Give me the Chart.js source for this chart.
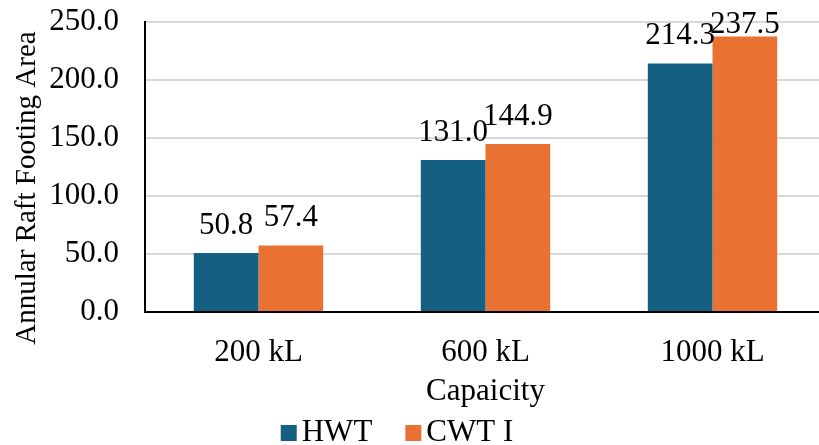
<!DOCTYPE html>
<html>
<head>
<meta charset="utf-8">
<script src="https://cdn.jsdelivr.net/npm/chart.js@4.4.1/dist/chart.umd.min.js"></script>
<style>
    html, body { margin: 0; padding: 0; background: #fff; overflow: hidden; }
    #wrap { width: 826px; height: 445px; }
</style>
</head>
<body>
<div id="wrap"><canvas id="areaChart"></canvas></div>
<script>
// Raft footing area by tank capacity
const capacities = ['200 kL', '600 kL', '1000 kL'];
const hwtArea = [50.8, 131.0, 214.3];
const cwtArea = [57.4, 144.9, 237.5];
const yTicks = [0, 50, 100, 150, 200, 250];

const FONT = 'Liberation Serif';
const SIZE = 31;

// value labels above each bar, kept inside the canvas near the top
const barLabels = {
    id: 'barLabels',
    afterDatasetsDraw(chart) {
        const ctx = chart.ctx;
        ctx.save();
        ctx.font = SIZE + 'px "' + FONT + '"';
        ctx.fillStyle = '#000';
        ctx.textAlign = 'center';
        ctx.textBaseline = 'alphabetic';
        chart.data.datasets.forEach((ds, i) => {
            chart.getDatasetMeta(i).data.forEach((bar, j) => {
                const y = Math.max(bar.y - 19, 33);
                ctx.fillText(ds.data[j].toFixed(1), bar.x, y);
            });
        });
        ctx.restore();
    }
};

// rotated y-axis title
const yTitle = {
    id: 'yTitle',
    afterDraw(chart) {
        const ctx = chart.ctx;
        ctx.save();
        ctx.font = '29px "' + FONT + '"';
        ctx.fillStyle = '#000';
        ctx.textAlign = 'center';
        ctx.textBaseline = 'middle';
        ctx.translate(27, 188);
        ctx.rotate(-Math.PI / 2);
        ctx.fillText('Annular Raft Footing Area', 0, 0);
        ctx.restore();
    }
};

// legend row under the axis title (square swatch + name)
const bottomLegend = {
    id: 'bottomLegend',
    afterDraw(chart) {
        const ctx = chart.ctx;
        const box = 16, gap = 5, spacing = 33;
        ctx.save();
        ctx.font = SIZE + 'px "' + FONT + '"';
        ctx.textBaseline = 'middle';
        const items = chart.data.datasets.map(ds => ({
            text: ds.label,
            color: ds.backgroundColor,
            w: box + gap + ctx.measureText(ds.label).width
        }));
        const total = items.reduce((s, it) => s + it.w, 0) + spacing * (items.length - 1);
        let x = 397 - total / 2;
        const y = 433;
        items.forEach(it => {
            ctx.fillStyle = it.color;
            ctx.fillRect(x, y - box / 2, box, box);
            ctx.fillStyle = '#000';
            ctx.fillText(it.text, x + box + gap, y);
            x += it.w + spacing;
        });
        ctx.restore();
    }
};

new Chart(document.getElementById('areaChart').getContext('2d'), {
    type: 'bar',
    data: {
        labels: capacities,
        datasets: [
            {
                label: 'HWT',
                data: hwtArea,
                backgroundColor: '#156082',
                categoryPercentage: 0.57,
                barPercentage: 1.0
            },
            {
                label: 'CWT I',
                data: cwtArea,
                backgroundColor: '#E97132',
                categoryPercentage: 0.57,
                barPercentage: 1.0
            }
        ]
    },
    options: {
        responsive: true,
        maintainAspectRatio: false,
        animation: false,
        layout: {
            padding: { top: 22, right: 0, bottom: 28, left: 0 }
        },
        plugins: {
            legend: { display: false },
            tooltip: { enabled: false }
        },
        scales: {
            x: {
                afterFit(scale) {
                    scale.height = 105;
                },
                grid: { display: false },
                border: { color: '#000', width: 2 },
                ticks: {
                    color: '#000',
                    font: { family: FONT, size: SIZE, lineHeight: 1.0 },
                    padding: 17
                },
                title: {
                    display: true,
                    text: 'Capaicity',
                    color: '#000',
                    font: { family: FONT, size: SIZE, lineHeight: 1.0 },
                    padding: { top: 0, bottom: 10 }
                }
            },
            y: {
                min: 0,
                max: 250,
                afterBuildTicks(scale) {
                    scale.ticks = yTicks.map(v => ({ value: v }));
                },
                afterFit(scale) {
                    scale.width = 145;
                    scale.paddingTop = 0;
                    scale.paddingBottom = 0;
                },
                grid: {
                    color: '#d9d9d9',
                    lineWidth: 2,
                    drawTicks: false
                },
                border: { color: '#000', width: 2 },
                ticks: {
                    color: '#000',
                    font: { family: FONT, size: SIZE, lineHeight: 1.0 },
                    padding: 26,
                    callback: v => v.toFixed(1)
                }
            }
        }
    },
    plugins: [barLabels, yTitle, bottomLegend]
});
</script>
</body>
</html>
